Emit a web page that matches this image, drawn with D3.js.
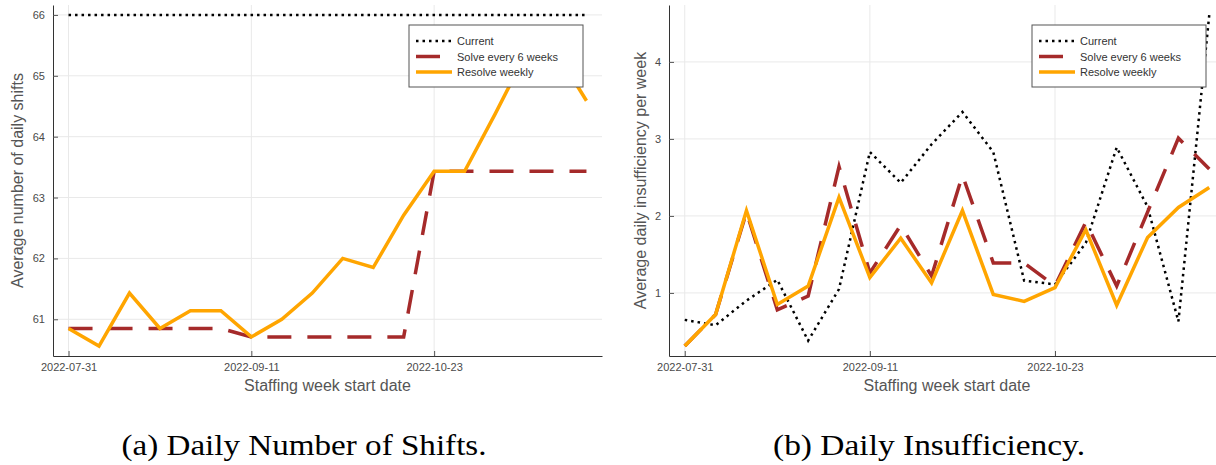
<!DOCTYPE html>
<html>
<head>
<meta charset="utf-8">
<script src="https://cdn.jsdelivr.net/npm/d3@7"></script>
<style>
	body { margin: 0; background: #fff; }
	svg { display: block; }
</style>
</head>
<body>
<svg id="svgChart" width="1216" height="465"></svg>
<script>
// week start dates (x axis)
var weekStarts = ["2022-07-31", "2022-08-07", "2022-08-14", "2022-08-21", "2022-08-28", "2022-09-04",
	"2022-09-11", "2022-09-18", "2022-09-25", "2022-10-02", "2022-10-09", "2022-10-16",
	"2022-10-23", "2022-10-30", "2022-11-06", "2022-11-13", "2022-11-20", "2022-11-27"];
var xTickDates = ["2022-07-31", "2022-09-11", "2022-10-23"];

var seriesNames = ["Current", "Solve every 6 weeks", "Resolve weekly"];

// (a) average number of daily shifts
var shiftsCurrent  = [66, 66, 66, 66, 66, 66, 66, 66, 66, 66, 66, 66, 66, 66, 66, 66, 66, 66];
var shiftsSixWeeks = [60.85, 60.85, 60.85, 60.85, 60.85, 60.85, 60.71, 60.71, 60.71, 60.71, 60.71, 60.71,
	63.43, 63.43, 63.43, 63.43, 63.43, 63.43];
var shiftsWeekly   = [60.85, 60.56, 61.43, 60.85, 61.14, 61.14, 60.71, 61.0, 61.43, 62.0, 61.85, 62.71,
	63.43, 63.43, 64.37, 65.35, 65.4, 64.59];
var shiftsYTicks = [61, 62, 63, 64, 65, 66];

// (b) average daily insufficiency per week
var insuffCurrent  = [0.65, 0.58, 0.9, 1.17, 0.38, 1.05, 2.83, 2.43, 2.93, 3.35, 2.83, 1.16,
	1.11, 1.65, 2.89, 2.12, 0.63, 4.61];
var insuffSixWeeks = [0.31, 0.72, 2.05, 0.78, 0.96, 2.64, 1.26, 1.88, 1.22, 2.53, 1.39, 1.39,
	1.09, 1.92, 1.09, 2.05, 3.01, 2.61];
var insuffWeekly   = [0.31, 0.72, 2.07, 0.85, 1.09, 2.24, 1.2, 1.71, 1.13, 2.07, 0.98, 0.89,
	1.07, 1.82, 0.84, 1.72, 2.11, 2.37];
var insuffYTicks = [1, 2, 3, 4];

var parseDate = d3.utcParse("%Y-%m-%d");
var formatDate = d3.utcFormat("%Y-%m-%d");

var styles = [
	{color: "#000000", width: 2.5, dash: "2.5 4"},
	{color: "#a52a2a", width: 3.5, dash: "24 16"},
	{color: "#ffa500", width: 3.5, dash: null}
];

class LinePanel {
	/*
		One panel of the figure: axes, grid, the three series, legend and caption
	*/
	constructor(svg, series, config) {
		this.svg = svg;
		this.series = series;
		this.config = config;
		this.left = config.left;
		this.right = config.right;
		this.top = 5;
		this.bottom = 356;

		this.dates = weekStarts.map(parseDate);
		this._buildScales();
		this._drawGrid();
		this._drawAxes();
		this._drawLines();
		this._drawLegend();
		this._drawCaption();
	}
	_pad(ext){
		// widen the extent by 3% on each side
		var p = (ext[1] - ext[0]) * 0.03;
		return [+ext[0] - p, +ext[1] + p];
	}
	_buildScales(){
		var xd = this._pad(d3.extent(this.dates));
		this.x = d3.scaleUtc()
			.domain([new Date(xd[0]), new Date(xd[1])])
			.range([this.left, this.right]);
		var all = [].concat.apply([], this.series.map(function(s){ return s.values; }));
		this.y = d3.scaleLinear()
			.domain(this._pad(d3.extent(all)))
			.range([this.bottom, this.top]);
	}
	_drawGrid(){
		var that = this;
		var g = this.svg.append("g").attr("stroke", "#e9e9e9").attr("stroke-width", 1);
		g.selectAll(".vgrid").data(xTickDates.map(parseDate)).enter().append("line")
			.attr("x1", function(d){ return that.x(d); })
			.attr("x2", function(d){ return that.x(d); })
			.attr("y1", this.top).attr("y2", this.bottom);
		g.selectAll(".hgrid").data(this.config.yTicks).enter().append("line")
			.attr("y1", function(d){ return that.y(d); })
			.attr("y2", function(d){ return that.y(d); })
			.attr("x1", this.left).attr("x2", this.right);
	}
	_drawAxes(){
		var xAxis = d3.axisBottom(this.x)
			.tickValues(xTickDates.map(parseDate))
			.tickFormat(formatDate)
			.tickSizeInner(-5).tickSizeOuter(0).tickPadding(7);
		var yAxis = d3.axisLeft(this.y)
			.tickValues(this.config.yTicks)
			.tickFormat(d3.format("d"))
			.tickSizeInner(-5).tickSizeOuter(0).tickPadding(8);

		var gx = this.svg.append("g")
			.attr("transform", "translate(0," + this.bottom + ")")
			.call(xAxis);
		var gy = this.svg.append("g")
			.attr("transform", "translate(" + this.left + ",0)")
			.call(yAxis);
		[gx, gy].forEach(function(g){
			g.select(".domain").attr("stroke", "#333");
			g.selectAll(".tick line").attr("stroke", "#555");
			g.selectAll(".tick text")
				.attr("font-family", "Liberation Sans, Arial, sans-serif")
				.attr("font-size", 11)
				.attr("fill", "#4a4a4a");
		});

		var labelFont = "Liberation Sans, Arial, sans-serif";
		this.svg.append("text")
			.attr("x", (this.left + this.right) / 2)
			.attr("y", 391)
			.attr("text-anchor", "middle")
			.attr("font-family", labelFont)
			.attr("font-size", 16)
			.attr("fill", "#555")
			.text("Staffing week start date");
		this.svg.append("text")
			.attr("transform", "translate(" + this.config.yLabelX + "," + ((this.top + this.bottom) / 2) + ") rotate(-90)")
			.attr("text-anchor", "middle")
			.attr("font-family", labelFont)
			.attr("font-size", 16)
			.attr("fill", "#555")
			.text(this.config.yLabel);
	}
	_drawLines(){
		var that = this;
		var line = d3.line()
			.x(function(d){ return that.x(d.date); })
			.y(function(d){ return that.y(d.value); });
		this.svg.append("g").selectAll(".series")
			.data(this.series)
			.enter().append("path")
			.attr("class", "series")
			.attr("fill", "none")
			.attr("stroke", function(d){ return d.style.color; })
			.attr("stroke-width", function(d){ return d.style.width; })
			.attr("stroke-dasharray", function(d){ return d.style.dash; })
			.attr("d", function(s){
				return line(s.values.map(function(v, i){ return {date: that.dates[i], value: v}; }));
			});
	}
	_drawLegend(){
		var bx = this.config.legendX, by = 25;
		var g = this.svg.append("g").attr("transform", "translate(" + bx + "," + by + ")");
		g.append("rect")
			.attr("width", 174).attr("height", 62)
			.attr("fill", "#fff").attr("stroke", "#555").attr("stroke-width", 1);
		var rows = g.selectAll(".legendRow").data(this.series).enter().append("g")
			.attr("transform", function(d, i){ return "translate(0," + (16 + i * 15.5) + ")"; });
		rows.append("line")
			.attr("x1", 7).attr("x2", 43)
			.attr("stroke", function(d){ return d.style.color; })
			.attr("stroke-width", function(d){ return d.style.width; })
			.attr("stroke-dasharray", function(d){ return d.style.dash; });
		rows.append("text")
			.attr("x", 48).attr("y", 4)
			.attr("font-family", "Liberation Sans, Arial, sans-serif")
			.attr("font-size", 11)
			.attr("fill", "#333")
			.text(function(d){ return d.name; });
	}
	_drawCaption(){
		this.svg.append("text")
			.attr("x", this.config.captionX)
			.attr("y", 455)
			.attr("text-anchor", "middle")
			.attr("font-family", "Liberation Serif, Times New Roman, serif")
			.attr("font-size", 29)
			.attr("textLength", this.config.captionWidth)
			.attr("lengthAdjust", "spacingAndGlyphs")
			.attr("fill", "#000")
			.text(this.config.caption);
	}
}

function makeSeries(valueLists){
	return valueLists.map(function(v, i){
		return {name: seriesNames[i], values: v, style: styles[i]};
	});
}

var svg = d3.select("#svgChart");
svg.append("rect").attr("width", 1216).attr("height", 465).attr("fill", "#fff");

new LinePanel(svg, makeSeries([shiftsCurrent, shiftsSixWeeks, shiftsWeekly]), {
	left: 53, right: 602,
	yTicks: shiftsYTicks,
	yLabel: "Average number of daily shifts",
	yLabelX: 23,
	legendX: 409,
	caption: "(a) Daily Number of Shifts.",
	captionX: 304, captionWidth: 365
});

new LinePanel(svg, makeSeries([insuffCurrent, insuffSixWeeks, insuffWeekly]), {
	left: 669, right: 1225,
	yTicks: insuffYTicks,
	yLabel: "Average daily insufficiency per week",
	yLabelX: 646,
	legendX: 1032,
	caption: "(b) Daily Insufficiency.",
	captionX: 929, captionWidth: 312
});
</script>
</body>
</html>
